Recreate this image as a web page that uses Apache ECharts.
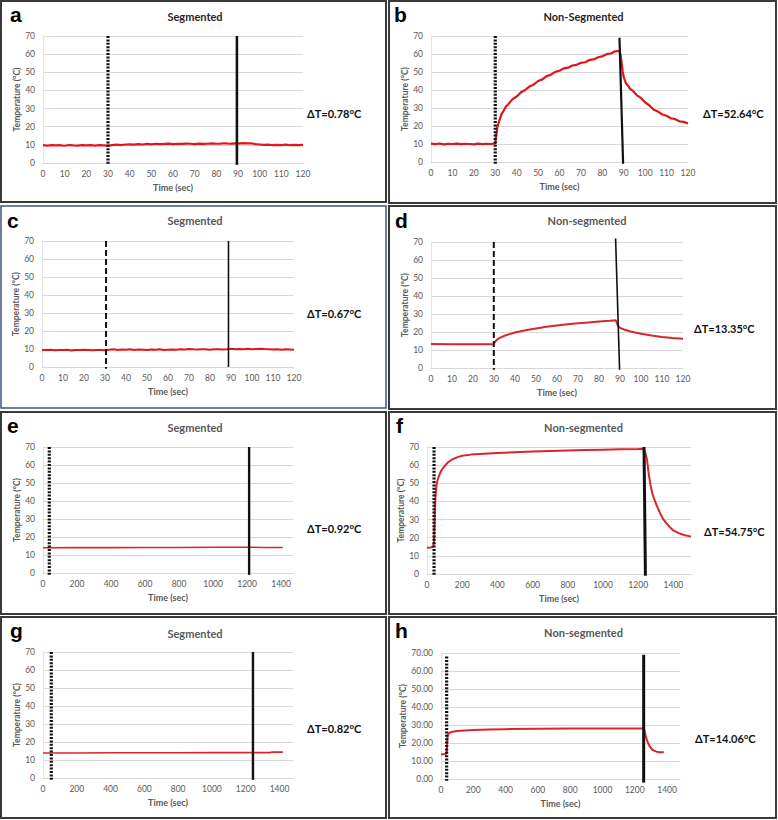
<!DOCTYPE html>
<html><head><meta charset="utf-8">
<script src="https://cdn.jsdelivr.net/npm/echarts@6/dist/echarts.min.js"></script>
<style>html,body{margin:0;padding:0;background:#fff}#c{width:778px;height:820px}</style>
</head><body><div id="c"></div>
<script>
// ---------------- DATA ----------------
const panelLetters = ['a','b','c','d','e','f','g','h'];
const panelTitles = ['Segmented','Non-Segmented','Segmented','Non-segmented','Segmented','Non-segmented','Segmented','Non-segmented'];
const deltaLabels = ['ΔT=0.78°C','ΔT=52.64°C','ΔT=0.67°C','ΔT=13.35°C','ΔT=0.92°C','ΔT=54.75°C','ΔT=0.82°C','ΔT=14.06°C'];
const xAxisName = 'Time (sec)';
const yAxisName = 'Temperature (°C)';

const time120 = [0,2,4,6,8,10,12,14,16,18,20,22,24,26,28,30,32,34,36,38,40,42,44,46,48,50,52,54,56,58,60,62,64,66,68,70,72,74,76,78,80,82,84,86,88,90,92,94,96,98,100,102,104,106,108,110,112,114,116,118,120];
const tempA = [9.8,9.6,9.9,9.7,9.8,9.5,9.9,9.7,9.6,9.8,9.7,9.9,9.6,9.8,9.7,9.6,
  9.9,10.1,9.9,10.2,10.3,10.1,10.4,10.2,10.5,10.3,10.6,10.4,10.5,10.7,10.4,
  10.6,10.5,10.7,10.6,10.4,10.7,10.5,10.6,10.8,10.6,10.7,10.9,10.6,10.8,10.7,
  11.0,10.8,10.9,10.4,10.2,10.0,10.1,9.8,10.0,9.9,10.1,9.8,10.0,9.9,10.0];
const tempC = [9.5,9.4,9.6,9.3,9.5,9.4,9.6,9.2,9.5,9.4,9.6,9.5,9.3,9.5,9.4,9.3,
  9.6,9.8,9.5,9.7,9.6,9.8,9.5,9.7,9.6,9.5,9.7,9.6,9.8,9.5,9.6,
  9.7,9.6,9.8,9.7,10.0,9.8,9.7,9.9,9.8,9.6,9.8,9.9,9.7,9.8,10.1,
  9.9,10.0,9.8,10.1,9.9,10.0,10.2,10.0,9.9,9.7,9.8,9.6,9.8,9.7,9.6];

const timeB = [0,2,4,6,8,10,12,14,16,18,20,22,24,26,28,30,30.5,31,32,33,34,35,36,38,40,42,44,46,48,50,52,54,56,58,60,62,64,66,68,70,72,74,76,78,80,82,84,86,88,88.5,89,89.5,90,91,92,93,94,96,98,100,102,104,106,108,110,112,114,116,118,120];
const tempB = [10.2,9.9,10.3,9.8,10.1,10.0,10.2,9.9,10.1,10.0,9.8,10.2,9.9,10.1,10.0,10.3,
  14.8,19.6,23.4,26.7,28.6,30.8,32.0,
  34.8,36.4,38.7,40.0,42.0,43.1,45.0,45.9,47.7,48.5,50.1,50.7,52.0,52.4,53.6,54.0,55.1,55.4,56.7,57.0,58.2,58.7,59.9,60.3,61.5,61.8,
  59.5,55.2,50.3,47.1,43.8,42.4,40.6,39.8,
  37.2,35.6,33.1,31.4,29.0,28.0,26.4,25.7,24.3,23.8,22.6,22.3,21.4];

const timeD = [0,10,20,29,30,30.5,31,32,33,35,37,40,45,50,55,60,65,70,75,80,85,88,88.5,89,90,92,95,100,105,110,115,120];
const tempD = [13.3,13.2,13.2,13.2,13.4,14.5,15.3,16.2,16.9,17.9,18.7,19.7,21.0,22.0,22.9,23.6,24.3,24.8,25.3,25.8,26.2,26.5,25.0,23.5,22.3,21.4,20.3,19.0,18.0,17.2,16.7,16.3];

const timeE = [0,200,400,600,800,1000,1200,1240,1300,1410];
const tempE = [14.0,14.1,14.1,14.2,14.2,14.3,14.3,14.3,14.2,14.2];

const timeF = [0,20,35,40,43,45,48,50,55,60,70,80,100,120,140,170,200,250,300,400,500,600,700,800,900,1000,1100,1200,1230,1240,1250,1260,1270,1280,1290,1300,1320,1340,1360,1380,1400,1430,1460,1500];
const tempF = [14.5,14.6,15.0,18,28,36,42,45,49.5,51.8,54.5,56.8,59.5,61.6,63,64.3,65.2,65.8,66.2,66.7,67.1,67.5,67.8,68.1,68.3,68.5,68.7,68.9,69.0,67,63,55,49,44.5,41.5,39,34.5,30.5,28,25.8,24,22.5,21.5,20.6];

const timeG = [0,200,400,600,800,1000,1200,1260,1340,1360,1420];
const tempG = [13.9,13.9,14.0,14.0,14.0,14.1,14.1,14.1,14.1,14.4,14.4];

const timeH = [0,20,30,35,38,40,45,50,60,80,100,150,200,300,400,600,800,1000,1200,1255,1260,1265,1270,1275,1285,1295,1305,1315,1335,1355,1380];
const tempH = [13.8,13.8,13.9,14.5,19,23,24.8,25.5,26.0,26.4,26.7,27.0,27.2,27.5,27.7,27.9,28.0,28.1,28.1,28.1,27.0,25.0,23.2,21.6,19.4,17.8,16.6,15.9,15.2,14.9,14.8];

// event markers: [time, temp] end points (start of exposure / end of exposure)
const startMarks = [
  [[30,70],[30,-1]], [[30,70],[30,-1]], [[30.5,70],[30.5,-1]], [[29.9,70],[29.9,-1]],
  [[37,70],[37,-1]], [[40,70],[40,-1]], [[49,70],[49,-1]], [[35,68],[35,-1]]
];
const stopMarks = [
  [[89.5,70],[89.5,-1]], [[88,69],[89.7,-1]], [[88.8,70],[88.8,0]], [[87.9,72],[89.8,-1]],
  [[1212,70],[1212,-1]], [[1233,70],[1241,-1]], [[1243,70],[1243,-1]], [[1255,69],[1255,-2]]
];
const seriesTimes = [time120, timeB, time120, timeD, timeE, timeF, timeG, timeH];
const seriesTemps = [tempA, tempB, tempC, tempD, tempE, tempF, tempG, tempH];
const xMaxes = [120,120,120,120,1470,1500,1480,1480];
const xIntervals = [10,10,10,10,200,200,200,200];

// ---------------- LAYOUT / STYLE ----------------
const FONT = 'Lato, "Liberation Sans", sans-serif';
const layout = [
  {box:[1,1,385,201], grid:[43,36,260,127], title:[195,16.5], tc:'#262626', letter:[10,14.6], delta:[307,113.5], yGap:18, red:'#e3141b', w:2.2, st:[2,1.4], sw:3.2, ew:2.6},
  {box:[389,1,387,202], grid:[431,36,257,126], title:[583.5,16.5], tc:'#262626', letter:[394,14.6], delta:[703,113.5], yGap:18, red:'#e3141b', w:2.2, st:[2,1.4], sw:3.2, ew:2.2},
  {box:[1,206,385,202], grid:[42,241,252,126], title:[195,220.5], tc:'#595959', letter:[7,220.6], delta:[307,313.5], yGap:18, red:'#e3141b', w:2, st:[6,3], sw:2, ew:1.6, bc:'#3b5580', bw:1.5},
  {box:[389,206,387,203], grid:[431,242,252,126], title:[587,220.5], tc:'#595959', letter:[395,220.6], delta:[694,328.5], yGap:18, red:'#d8262c', w:2, st:[6,3], sw:2, ew:1.6},
  {box:[1,412,385,202], grid:[43,447,250,126], title:[195,427], tc:'#595959', letter:[7,425.6], delta:[307,528.5], yGap:18, red:'#d8262c', w:1.6, st:[2,1.4], sw:3.2, ew:2.4},
  {box:[389,412,387,202], grid:[427,447,264,127], title:[583.5,427], tc:'#595959', letter:[396,425.6], delta:[704,531.5], yGap:18, red:'#d8262c', w:2, st:[2,1.4], sw:3.2, ew:3},
  {box:[1,617,385,201], grid:[43,652,250,126], title:[195,633], tc:'#595959', letter:[10,630.6], delta:[307,728], yGap:18, red:'#d8262c', w:1.6, st:[2,1.4], sw:3.2, ew:2.4},
  {box:[389,617,387,201], grid:[441,653,239,126], title:[583.5,632.5], tc:'#595959', letter:[395,630.6], delta:[695,738.5], yGap:29, red:'#d8262c', w:2, st:[2,1.4], sw:3.2, ew:3, yFixed:2}
];

const zip = (xs, ys) => xs.map((x, i) => [x, ys[i]]);

const grids = [], xAxes = [], yAxes = [], series = [], graphics = [];
layout.forEach((L, i) => {
  grids.push({left:L.grid[0], top:L.grid[1], width:L.grid[2], height:L.grid[3], containLabel:false, outerBoundsMode:'none'});
  xAxes.push({
    gridIndex:i, type:'value', min:0, max:xMaxes[i], interval:xIntervals[i],
    axisLine:{show:true, lineStyle:{color:'#d9d9d9', width:1}},
    axisTick:{show:false}, splitLine:{show:false},
    axisLabel:{color:'#595959', fontSize:8.5, fontFamily:FONT, margin:6,
      showMaxLabel: xMaxes[i] % xIntervals[i] === 0, formatter: v => String(v)},
    name:xAxisName, nameLocation:'middle', nameGap:20,
    nameTextStyle:{color:'#595959', fontSize:9, fontWeight:'bold', fontFamily:FONT}
  });
  yAxes.push({
    gridIndex:i, type:'value', min:0, max:70, interval:10,
    axisLine:{show:true, lineStyle:{color:'#e3e3e3', width:1}},
    axisTick:{show:false},
    splitLine:{show:true, lineStyle:{color:'#d9d9d9', width:1}},
    axisLabel:{color:'#595959', fontSize:8.5, fontFamily:FONT, margin:8,
      formatter: L.yFixed ? (v => v.toFixed(L.yFixed)) : (v => String(v))},
    name:yAxisName, nameLocation:'middle', nameGap:L.yGap,
    nameTextStyle:{color:'#595959', fontSize:8.5, fontWeight:'bold', fontFamily:FONT}
  });
  series.push({
    type:'line', xAxisIndex:i, yAxisIndex:i, data:zip(seriesTimes[i], seriesTemps[i]),
    showSymbol:false, symbol:'none', smooth:false, z:2,
    lineStyle:{color:L.red, width:L.w}
  });
  series.push({
    type:'line', xAxisIndex:i, yAxisIndex:i, data:startMarks[i], clip:false,
    symbol:'none', z:3, lineStyle:{color:'#111', width:L.sw, type:L.st, cap:'butt'}
  });
  series.push({
    type:'line', xAxisIndex:i, yAxisIndex:i, data:stopMarks[i], clip:false,
    symbol:'none', z:3, lineStyle:{color:'#111', width:L.ew}
  });
  graphics.push({type:'rect', shape:{x:L.box[0], y:L.box[1], width:L.box[2], height:L.box[3]},
    style:{fill:'none', stroke:L.bc || '#3a3a3a', lineWidth:L.bw || 2}, z:10});
  graphics.push({type:'text', x:L.letter[0], y:L.letter[1],
    style:{text:panelLetters[i], font:'bold 21px "Liberation Sans", Arial, sans-serif', fill:'#000', align:'left', verticalAlign:'middle'}});
  graphics.push({type:'text', x:L.title[0], y:L.title[1],
    style:{text:panelTitles[i], font:'bold 11px ' + FONT, fill:L.tc, align:'center', verticalAlign:'middle'}});
  graphics.push({type:'text', x:L.delta[0], y:L.delta[1],
    style:{text:deltaLabels[i], font:'bold 11px ' + FONT, fill:'#111', align:'left', verticalAlign:'middle'}});
});

const chart = echarts.init(document.getElementById('c'), null, {renderer:'svg', width:778, height:820});
chart.setOption({
  animation:false,
  backgroundColor:'#fff',
  grid:grids, xAxis:xAxes, yAxis:yAxes, series:series, graphic:graphics
});
</script></body></html>
